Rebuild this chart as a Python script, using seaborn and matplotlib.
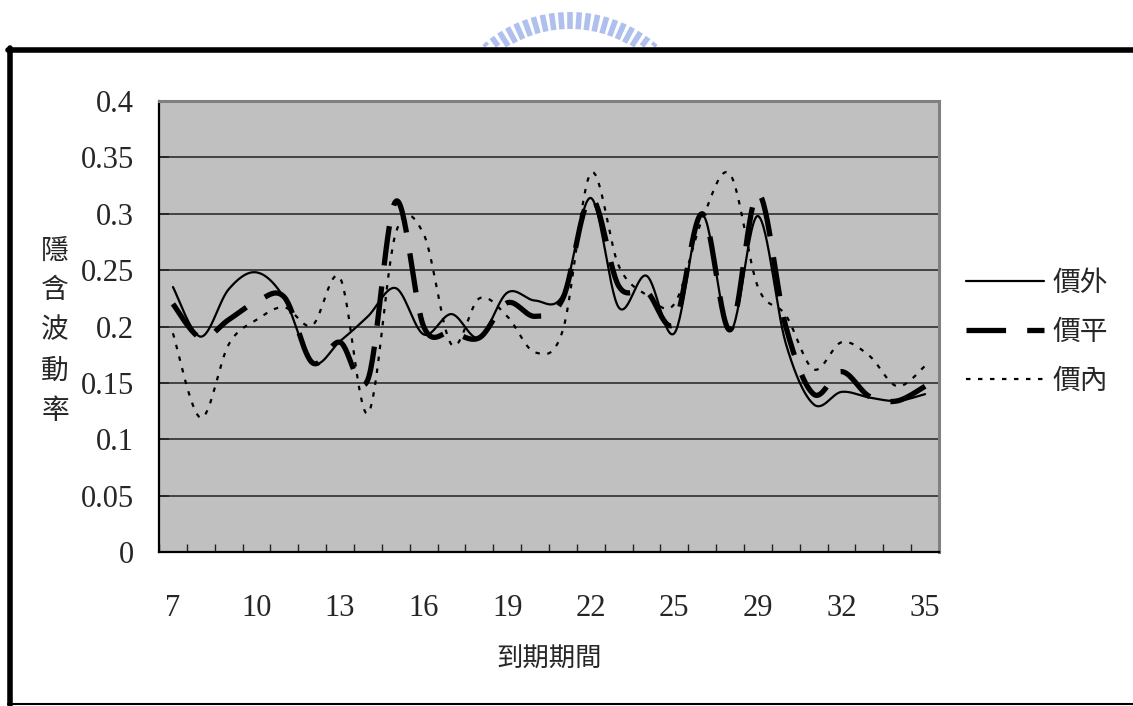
import numpy as np
import pandas as pd
import matplotlib
matplotlib.use("Agg")
import matplotlib.pyplot as plt
import seaborn as sns
from matplotlib.lines import Line2D

# ---------------- data ----------------
categories = [7, 8, 9, 10, 11, 12, 13, 14, 15, 16, 17, 18, 19, 20, 21, 22, 23,
              24, 25, 26, 27, 29, 30, 31, 32, 33, 34, 35]
otm = [0.235, 0.191, 0.233, 0.248, 0.225, 0.168, 0.187, 0.209, 0.234, 0.193,
       0.211, 0.190, 0.230, 0.223, 0.228, 0.314, 0.217, 0.245, 0.194, 0.299,
       0.196, 0.298, 0.185, 0.131, 0.142, 0.137, 0.134, 0.140]
atm = [0.220, 0.190, 0.206, 0.222, 0.226, 0.168, 0.186, 0.153, 0.311, 0.200,
       0.195, 0.190, 0.221, 0.209, 0.225, 0.314, 0.236, 0.231, 0.203, 0.300,
       0.197, 0.318, 0.200, 0.140, 0.160, 0.138, 0.134, 0.147]
itm = [0.194, 0.119, 0.184, 0.206, 0.217, 0.201, 0.243, 0.123, 0.283, 0.282,
       0.184, 0.225, 0.209, 0.177, 0.197, 0.336, 0.254, 0.228, 0.220, 0.295,
       0.335, 0.235, 0.210, 0.162, 0.186, 0.174, 0.147, 0.165]
series_names = ["價外", "價平", "價內"]
y_ticks = [0, 0.05, 0.1, 0.15, 0.2, 0.25, 0.3, 0.35, 0.4]
y_tick_labels = ["0", "0.05", "0.1", "0.15", "0.2", "0.25", "0.3", "0.35", "0.4"]
x_title = "到期期間"
y_title = "隱含波動率"

# ---------------- helpers ----------------
W, H = 1133, 706
def fx(px): return px / W
def fy(py): return 1 - py / H

def smooth(y, n=30):
    """Excel-style smoothed line (cubic Bezier through every point)."""
    P = np.column_stack([np.arange(len(y), dtype=float), np.asarray(y, float)])
    out = []
    for i in range(len(P) - 1):
        p0, p3 = P[i], P[i + 1]
        pm = P[i - 1] if i > 0 else P[i]
        pp = P[i + 2] if i + 2 < len(P) else P[i + 1]
        c1 = p0 + (p3 - pm) / 6
        c2 = p3 - (pp - p0) / 6
        t = np.linspace(0, 1, n, endpoint=(i == len(P) - 2))[:, None]
        out.append((1 - t) ** 3 * p0 + 3 * (1 - t) ** 2 * t * c1
                   + 3 * (1 - t) * t ** 2 * c2 + t ** 3 * p3)
    return np.vstack(out)

sns.set_theme(style="white")
plt.rcParams["font.family"] = ["Liberation Serif", "Noto Sans CJK TC", "DejaVu Sans"]

fig = plt.figure(figsize=(W / 100, H / 100), dpi=100)
ax = fig.add_axes([fx(159), fy(552), (939 - 159) / W, (552 - 101) / H])
ax.set_facecolor("#C0C0C0")

styles = [
    dict(lw=1.6, linestyle="-"),
    dict(lw=3.8, linestyle=(0, (7.5, 4.0))),
    dict(lw=1.6, linestyle=(0, (2.0, 3.4))),
]
for name, vals, st in zip(series_names, [otm, atm, itm], styles):
    pts = smooth(vals)
    df = pd.DataFrame({"x": pts[:, 0], "y": pts[:, 1]})
    sns.lineplot(data=df, x="x", y="y", ax=ax, sort=False, estimator=None,
                 color="black", linewidth=st["lw"], linestyle=st["linestyle"],
                 zorder=3)

ax.set_xlim(-0.5, len(categories) - 0.5)
ax.set_ylim(0, 0.4)
ax.set_yticks(y_ticks)
ax.set_yticklabels(y_tick_labels)
ax.yaxis.grid(True, color="#222222", lw=1.1)
ax.set_axisbelow(True)

idx = np.arange(0, len(categories), 3)
ax.set_xticks(idx)
ax.set_xticklabels([str(categories[i]) for i in idx])
ax.set_xticks(np.arange(-0.5, len(categories)), minor=True)
ax.tick_params(axis="x", which="major", length=0, pad=30, labelsize=22)
ax.tick_params(axis="x", which="minor", direction="in", length=6, width=1,
               color="#222222", bottom=True)
ax.tick_params(axis="y", which="major", direction="in", length=7, width=1.2,
               color="#222222", pad=18, labelsize=22, left=True)
ax.set_xlabel("")
ax.set_ylabel("")

for s in ["left", "bottom"]:
    ax.spines[s].set_color("black")
    ax.spines[s].set_linewidth(1.6)
for s in ["top", "right"]:
    ax.spines[s].set_color("#808080")
    ax.spines[s].set_linewidth(2.2)

fig.text(fx(549), fy(660), x_title, ha="center", va="center", fontsize=19)
fig.text(fx(55), fy(332), "\n".join(y_title), ha="center", va="center",
         fontsize=20, linespacing=1.75)

handles = [Line2D([], [], color="black", linewidth=st["lw"], linestyle=st["linestyle"])
           for st in styles]
fig.legend(handles, series_names, loc="upper left",
           bbox_to_anchor=(fx(966), fy(271)), frameon=False, fontsize=20,
           handlelength=2.8, handletextpad=0.3, labelspacing=0.85,
           borderpad=0, borderaxespad=0)

# watermark-like logo arc at top
for phi in np.arange(-40, 41, 4):
    a = np.deg2rad(phi)
    r_out, r_in = 133, 116
    x0, y0 = 570 + r_out * np.sin(a), 145 - r_out * np.cos(a)
    x1, y1 = 570 + r_in * np.sin(a), 145 - r_in * np.cos(a)
    if y0 > 46:
        continue
    if y1 > 46:
        f = (46 - y0) / (y1 - y0)
        x1, y1 = x0 + f * (x1 - x0), 46
    fig.add_artist(Line2D([fx(x0), fx(x1)], [fy(y0), fy(y1)],
                          transform=fig.transFigure, color="#AFC0EE", lw=4,
                          solid_capstyle="butt"))

# outer frame
fig.add_artist(Line2D([fx(8), fx(1133)], [fy(50), fy(50)], transform=fig.transFigure,
                      color="black", lw=4))
fig.add_artist(Line2D([fx(10.5), fx(10.5)], [fy(48), fy(705)], transform=fig.transFigure,
                      color="black", lw=4))
fig.add_artist(Line2D([fx(8), fx(1133)], [fy(704), fy(704)], transform=fig.transFigure,
                      color="black", lw=1.5))

fig.savefig("out.png", dpi=100, facecolor="white")
